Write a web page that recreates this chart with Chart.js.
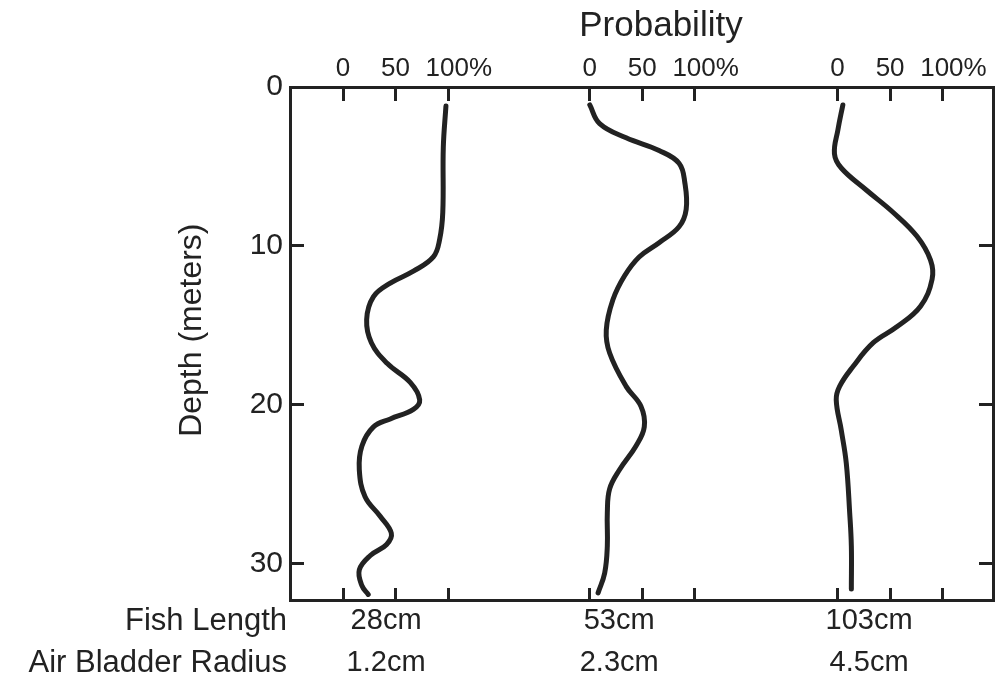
<!DOCTYPE html>
<html>
<head>
<meta charset="utf-8">
<script src="https://cdn.jsdelivr.net/npm/chart.js@4/dist/chart.umd.min.js"></script>
<style>
  body { margin: 0; background: #fff; }
</style>
</head>
<body>
<canvas id="myChart" width="997" height="681"></canvas>
<script>
// depth (m) and probability (%)
var depth28 = [1.2, 3.8, 7.9, 9.6, 10.7, 11.6, 12.35, 13.2, 14.65, 16.1, 17.4, 18.6, 19.7, 20.3, 20.9, 21.4, 22.6, 24.1, 25.8, 27.0, 28.1, 28.8, 29.5, 30.4, 31.4, 31.95];
var prob28 = [98, 95.5, 95, 92, 86, 67, 45, 29, 22.5, 27, 42, 64, 73, 67, 45, 29, 18, 15.5, 21, 35, 46, 41.5, 26, 15.5, 18, 24];

var depth53 = [1.13, 2.3, 3.2, 4.0, 4.8, 6.06, 7.7, 8.8, 9.8, 10.7, 11.9, 13.4, 15.3, 16.75, 18.85, 20.1, 21.4, 22.6, 24.1, 25.3, 26.8, 28.9, 30.6, 31.85];
var prob53 = [0, 9.4, 34.6, 66, 85, 90.6, 91.8, 85, 66, 47, 33, 22, 15.7, 18.9, 34.6, 48.7, 51.9, 44, 28.3, 18.9, 16.7, 16.7, 14.2, 7.9];

var depth103 = [1.13, 2.7, 4.2, 5.1, 6.5, 7.9, 9.4, 10.9, 12.1, 13.8, 15.1, 16.1, 17.6, 18.85, 19.7, 21.6, 23.7, 26.8, 28.9, 31.6];
var prob103 = [5, 0.3, -3, 3.5, 27.6, 53, 75.6, 88.5, 90, 79, 56.4, 34, 14.7, 1.9, -1.3, 3.5, 8.3, 11.5, 13.1, 13.1];

var depthTicks = [0, 10, 20, 30];
var probTicks = [0, 50, 100];
var probTickLabels = ['0', '50', '   100%'];
var fishLengths = ['28cm', '53cm', '103cm'];
var bladderRadii = ['1.2cm', '2.3cm', '4.5cm'];

// layout: where each panel's 0% sits on the shared x scale, and where its caption goes
var panelStart = [0, 235, 471];
var captionAt = [41, 28, 30];
var ink = '#222';
var font = "'Liberation Sans', Arial, sans-serif";

function toPoints(depths, probs, start) {
  var pts = [];
  for (var i = 0; i < depths.length; i++) {
    pts.push({ x: start + probs[i], y: depths[i] });
  }
  return pts;
}

var allProbTicks = [];
panelStart.forEach(function (s) {
  probTicks.forEach(function (t) { allProbTicks.push(s + t); });
});

function setTicks(values) {
  return function (scale) {
    scale.ticks = values.map(function (v) { return { value: v }; });
  };
}
function fixWidth(w) { return function (scale) { scale.width = w; }; }
// fixed height, and no extra side padding for the tick labels
function fixHeight(h) {
  return function (scale) {
    scale.height = h;
    scale.paddingLeft = 0;
    scale.paddingRight = 0;
  };
}

var curve = {
  borderColor: ink,
  borderWidth: 5,
  pointRadius: 0,
  tension: 0.4,
  borderCapStyle: 'round',
  borderJoinStyle: 'round',
  fill: false
};

var rowHeaders = {
  id: 'rowHeaders',
  afterDraw: function (chart) {
    var sc = chart.scales.xl;
    var ctx = chart.ctx;
    ctx.save();
    ctx.font = '31px ' + font;
    ctx.fillStyle = ink;
    ctx.textAlign = 'right';
    ctx.textBaseline = 'middle';
    ctx.fillText('Fish Length', chart.chartArea.left - 3, sc.top + 21);
    ctx.fillText('Air Bladder Radius', chart.chartArea.left - 3, sc.top + 63);
    ctx.restore();
  }
};

var xMin = -50.5, xMax = 619, yMax = 32.3;

var ctx = document.getElementById('myChart');
var chart = new Chart(ctx, {
  type: 'line',
  data: {
    datasets: [
      Object.assign({ data: toPoints(depth28, prob28, panelStart[0]) }, curve),
      Object.assign({ data: toPoints(depth53, prob53, panelStart[1]) }, curve),
      Object.assign({ data: toPoints(depth103, prob103, panelStart[2]) }, curve)
    ]
  },
  options: {
    responsive: false,
    animation: false,
    layout: { padding: 0 },
    plugins: { legend: { display: false }, tooltip: { enabled: false } },
    scales: {
      x: {
        type: 'linear', position: 'top', min: xMin, max: xMax,
        afterBuildTicks: setTicks(allProbTicks),
        afterFit: fixHeight(87),
        ticks: {
          autoSkip: false, maxRotation: 0, minRotation: 0,
          padding: 17, color: ink, font: { family: font, size: 26 },
          callback: function (v, i) { return probTickLabels[i % 3]; }
        },
        grid: { drawOnChartArea: false, tickLength: -14, lineWidth: 3, color: ink },
        border: { display: true, width: 3, color: ink },
        title: { display: true, text: '    Probability', color: ink, font: { family: font, size: 35 }, padding: { top: 5, bottom: 0 } }
      },
      xb: {
        type: 'linear', position: 'bottom', weight: 0, min: xMin, max: xMax,
        afterBuildTicks: setTicks(allProbTicks),
        afterFit: fixHeight(0),
        ticks: { display: false, autoSkip: false },
        grid: { drawOnChartArea: false, tickLength: -12, lineWidth: 3, color: ink },
        border: { display: true, width: 3, color: ink }
      },
      xl: {
        type: 'linear', position: 'bottom', weight: 1, min: xMin, max: xMax,
        afterBuildTicks: setTicks(panelStart.map(function (s, i) { return s + captionAt[i]; })),
        afterFit: fixHeight(81),
        ticks: {
          autoSkip: false, maxRotation: 0, minRotation: 0, padding: 0, color: ink,
          font: { family: font, size: 29, lineHeight: 42 / 29 },
          callback: function (v, i) { return [fishLengths[i], bladderRadii[i]]; }
        },
        grid: { display: false, drawTicks: false, tickLength: 0 },
        border: { display: false }
      },
      y: {
        type: 'linear', position: 'left', reverse: true, min: 0, max: yMax,
        afterBuildTicks: setTicks(depthTicks),
        afterFit: fixWidth(290),
        ticks: { padding: 21, color: ink, font: { family: font, size: 30 } },
        grid: { drawOnChartArea: false, tickLength: -14, lineWidth: 3, color: ink },
        border: { display: true, width: 3, color: ink },
        title: { display: true, text: '   Depth (meters)', color: ink, font: { family: font, size: 32 }, padding: { top: 173, bottom: 0 } }
      },
      y2: {
        type: 'linear', position: 'right', reverse: true, min: 0, max: yMax,
        afterBuildTicks: setTicks(depthTicks),
        afterFit: fixWidth(4),
        ticks: { display: false },
        grid: { drawOnChartArea: false, tickLength: -14, lineWidth: 3, color: ink },
        border: { display: true, width: 3, color: ink }
      }
    }
  },
  plugins: [rowHeaders]
});
</script>
</body>
</html>
